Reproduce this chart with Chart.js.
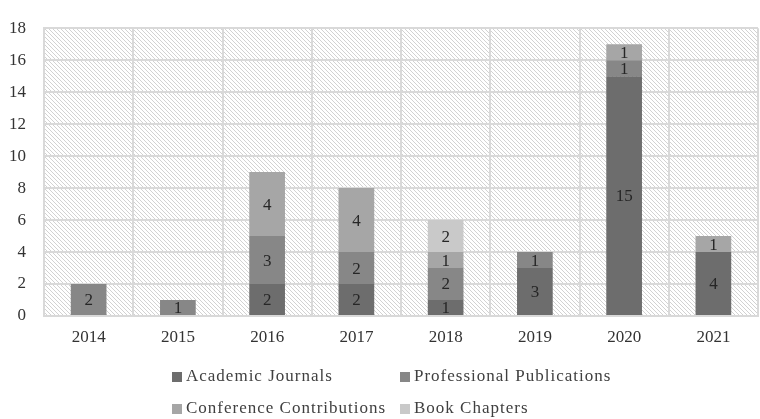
<!DOCTYPE html>
<html>
<head>
<meta charset="utf-8">
<script src="https://cdn.jsdelivr.net/npm/chart.js@4/dist/chart.umd.min.js"></script>
<style>
  html, body { margin: 0; padding: 0; background: #fff; }
  #wrap { width: 760px; height: 419px; position: relative; }
</style>
</head>
<body>
<div id="wrap"><canvas id="pubChart"></canvas></div>
<script>
// publications per year, stacked by type
const years = ['2014', '2015', '2016', '2017', '2018', '2019', '2020', '2021'];
const academicJournals = [0, 0, 2, 2, 1, 3, 15, 4];
const professionalPubs = [2, 1, 3, 2, 2, 1, 1, 0];
const conferenceContribs = [0, 0, 4, 4, 1, 0, 1, 1];
const bookChapters = [0, 0, 0, 0, 2, 0, 0, 0];
const seriesNames = ['Academic Journals', 'Professional Publications', 'Conference Contributions', 'Book Chapters'];
const seriesColors = ['#6d6d6d', '#878787', '#a6a6a6', '#c9c9c9'];

const serif = "'Liberation Serif', 'Times New Roman', serif";

// diagonal hatch behind the plot
function makeHatch(ctx) {
    const c = document.createElement('canvas');
    c.width = 4; c.height = 4;
    const g = c.getContext('2d');
    g.fillStyle = '#ffffff';
    g.fillRect(0, 0, 4, 4);
    g.strokeStyle = '#d2d2d2';
    g.lineWidth = 1;
    g.beginPath();
    g.moveTo(-1, -1); g.lineTo(5, 5);
    g.stroke();
    return ctx.createPattern(c, 'repeat');
}

const hatchBg = {
    id: 'hatchBg',
    beforeDraw(chart) {
        const { ctx, chartArea: a } = chart;
        ctx.save();
        ctx.fillStyle = makeHatch(ctx);
        ctx.fillRect(a.left, a.top, a.right - a.left, a.bottom - a.top);
        ctx.restore();
    }
};

const segLabels = {
    id: 'segLabels',
    afterDatasetsDraw(chart) {
        const ctx = chart.ctx;
        ctx.save();
        ctx.font = '17px ' + serif;
        ctx.fillStyle = '#262626';
        ctx.textAlign = 'center';
        ctx.textBaseline = 'middle';
        chart.data.datasets.forEach((ds, i) => {
            chart.getDatasetMeta(i).data.forEach((el, j) => {
                const v = ds.data[j];
                if (!v) return;
                ctx.fillText(String(v), el.x, (el.y + el.base) / 2 + 1);
            });
        });
        ctx.restore();
    }
};

const customLegend = {
    id: 'customLegend',
    afterDraw(chart) {
        const ctx = chart.ctx;
        const spots = [[172, 377], [400, 377], [172, 409], [400, 409]];
        ctx.save();
        ctx.font = '17px ' + serif;
        ctx.letterSpacing = '1px';
        ctx.textBaseline = 'middle';
        ctx.textAlign = 'left';
        seriesNames.forEach((name, i) => {
            const [x, y] = spots[i];
            ctx.fillStyle = seriesColors[i];
            ctx.fillRect(x, y - 5, 10, 10);
            ctx.fillStyle = '#404040';
            ctx.fillText(name, x + 14, y);
        });
        ctx.restore();
    }
};

const ctx = document.getElementById('pubChart').getContext('2d');
new Chart(ctx, {
    type: 'bar',
    data: {
        labels: years,
        datasets: [academicJournals, professionalPubs, conferenceContribs, bookChapters].map((d, i) => ({
            label: seriesNames[i],
            data: d,
            backgroundColor: seriesColors[i],
            borderWidth: 0,
            categoryPercentage: 1,
            barPercentage: 0.4
        }))
    },
    options: {
        responsive: true,
        maintainAspectRatio: false,
        animation: false,
        layout: { padding: { top: 14, right: 2, bottom: 73, left: 0 } },
        plugins: {
            legend: { display: false },
            tooltip: { enabled: false }
        },
        scales: {
            x: {
                stacked: true,
                grid: { color: '#d9d9d9', lineWidth: 2, drawTicks: false },
                border: { color: '#d9d9d9', width: 2 },
                ticks: { color: '#333333', padding: 11, font: { family: serif, size: 17 } },
                afterFit(s) { s.height = 30; }
            },
            y: {
                stacked: true,
                min: 0,
                max: 18,
                ticks: { stepSize: 2, color: '#333333', padding: 18, font: { family: serif, size: 17 } },
                grid: { color: '#d9d9d9', lineWidth: 2, drawTicks: false },
                border: { color: '#d9d9d9', width: 2 },
                afterFit(s) { s.width = 44; }
            }
        }
    },
    plugins: [hatchBg, segLabels, customLegend]
});
</script>
</body>
</html>
